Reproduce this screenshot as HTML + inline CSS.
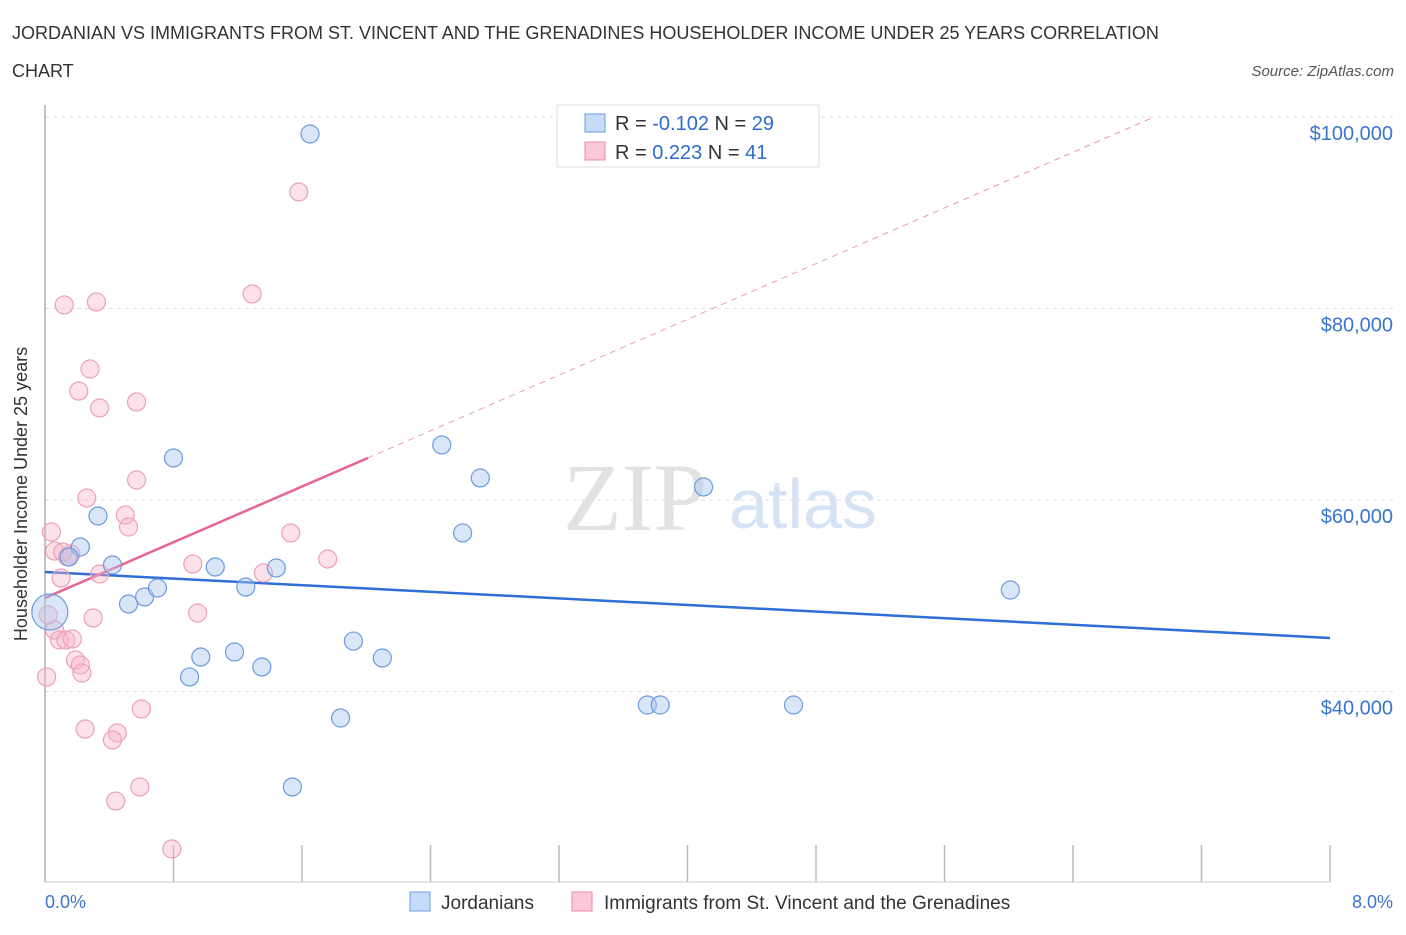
<!DOCTYPE html>
<html><head><meta charset="utf-8"><style>
body{margin:0;background:#fff;font-family:"Liberation Sans",sans-serif;}
svg text{font-family:"Liberation Sans",sans-serif;}
</style></head><body>
<svg id="chart" width="1406" height="930" xmlns="http://www.w3.org/2000/svg">
<text x="12" y="39" font-size="18" fill="#333">JORDANIAN VS IMMIGRANTS FROM ST. VINCENT AND THE GRENADINES HOUSEHOLDER INCOME UNDER 25 YEARS CORRELATION</text>
<text x="12" y="77" font-size="18" fill="#333">CHART</text>
<text x="1394" y="76" font-size="15" font-style="italic" fill="#555" text-anchor="end">Source: ZipAtlas.com</text>
<text x="635" y="530" font-size="96" font-family="Liberation Serif" fill="#e2e2e2" text-anchor="middle" style="font-family:'Liberation Serif',serif">ZIP</text>
<text x="803" y="528" font-size="70" fill="#d6e3f5" text-anchor="middle">atlas</text>
<g id="grid"></g>
<line x1="45" y1="105" x2="45" y2="882" stroke="#999" stroke-width="1.2"/>
<line x1="45" y1="882" x2="1330" y2="882" stroke="#ccc" stroke-width="1"/>
<g id="xticks"></g>
<text x="27" y="494" font-size="18" fill="#333" text-anchor="middle" transform="rotate(-90 27 494)">Householder Income Under 25 years</text>
<text x="45" y="908" font-size="18" fill="#3a74d0">0.0%</text>
<text x="1393" y="908" font-size="18" fill="#3a74d0" text-anchor="end">8.0%</text>
<g id="lines"></g>
<g id="points"></g>
<g>
<rect x="557" y="105" width="262" height="62" fill="#fff" stroke="#ddd"/>
<rect x="585" y="114" width="20" height="18" fill="#c6dbf7" stroke="#6c9ae0"/>
<rect x="585" y="142" width="20" height="18" fill="#fac8d8" stroke="#e88aa8"/>
<text x="615" y="130" font-size="20" fill="#333">R = <tspan fill="#2f6ad0">-0.102</tspan>   N = <tspan fill="#2f6ad0">29</tspan></text>
<text x="615" y="159" font-size="20" fill="#333">R =  <tspan fill="#2f6ad0"> 0.223</tspan>   N = <tspan fill="#2f6ad0">41</tspan></text>
</g>
<g>
<rect x="410" y="892" width="20" height="19" fill="#c6dbf7" stroke="#6c9ae0"/>
<text x="441" y="909" font-size="19" fill="#333">Jordanians</text>
<rect x="572" y="892" width="20" height="19" fill="#fac8d8" stroke="#e88aa8"/>
<text x="604" y="909" font-size="19" fill="#333">Immigrants from St. Vincent and the Grenadines</text>
</g>
</svg>
<script>
const yTicks=[100000,80000,60000,40000];
const yTickLabels=["$100,000","$80,000","$60,000","$40,000"];
const xTicks=[0,0.8,1.6,2.4,3.2,4.0,4.8,5.6,6.4,7.2,8.0];
const blueX=[1.65,0.80,0.33,0.22,0.15,0.42,0.52,0.62,0.70,1.06,1.25,1.44,0.97,0.90,1.18,1.35,1.92,2.10,1.84,1.54,2.47,2.71,2.60,4.10,3.75,3.83,4.66,6.01,0.03];
const blueY=[98225,64390,58330,55090,54050,53210,49140,49870,50810,53000,50910,52900,43600,41520,44130,42560,45270,43500,37230,30030,65750,62300,56560,61360,38590,38590,38590,50600,48300];
const pinkX=[1.58,0.12,0.32,1.29,0.28,0.21,0.34,0.57,0.57,0.26,0.04,0.50,0.52,0.06,0.16,0.14,0.10,0.34,0.92,1.53,1.76,1.36,0.95,0.30,0.02,0.06,0.09,0.13,0.17,0.19,0.22,0.23,0.01,0.60,0.25,0.45,0.42,0.59,0.44,0.79,0.11];
const pinkY=[92170,80370,80680,81520,73680,71380,69610,70240,62090,60210,56660,58430,57180,54670,54360,54050,51850,52270,53320,56560,53840,52380,48200,47680,47990,46420,45380,45380,45480,43290,42770,41930,41520,38180,36080,35670,34940,30030,28560,23550,54570];
const blueTrend=[52480,-861];   // intercept, slope per %
const pinkTrend=[49770,7274];
const pinkSolidEnd=2.01;
const NS="http://www.w3.org/2000/svg";
const X=v=>45+v/8*1285;
const Y=v=>117+(100000-v)/20000*191.5;
function mk(tag,attrs,parent){const e=document.createElementNS(NS,tag);for(const k in attrs)e.setAttribute(k,attrs[k]);parent.appendChild(e);return e;}
const grid=document.getElementById('grid');
yTicks.forEach((t,i)=>{
 const l=mk('line',{x1:45,x2:1393,y1:Y(t),y2:Y(t),stroke:'#ddd','stroke-dasharray':'4,4'},grid);
 
 
 const tx=mk('text',{x:1393,y:Y(t)+23,'font-size':20,fill:'#3a74d0','text-anchor':'end'},grid);
 tx.textContent=yTickLabels[i];
 
 
});
const xt=document.getElementById('xticks');
xTicks.forEach(t=>{
 const l=mk('line',{x1:X(t),x2:X(t),y1:845,y2:882,stroke:'#bbb','stroke-width':1.5},xt);
 
 
});
const lg=document.getElementById('lines');
let b=mk('line',{x1:X(0),y1:Y(blueTrend[0]),x2:X(8),y2:Y(blueTrend[0]+8*blueTrend[1]),stroke:'#2e6fd6','stroke-width':2.5},lg);


const xEnd=(100000-pinkTrend[0])/pinkTrend[1];
let pd=mk('line',{x1:X(pinkSolidEnd),y1:Y(pinkTrend[0]+pinkSolidEnd*pinkTrend[1]),x2:X(xEnd),y2:Y(100000),stroke:'#e89ab4','stroke-width':1,'stroke-dasharray':'6,5'},lg);


let ps=mk('line',{x1:X(0),y1:Y(pinkTrend[0]),x2:X(pinkSolidEnd),y2:Y(pinkTrend[0]+pinkSolidEnd*pinkTrend[1]),stroke:'#e8658f','stroke-width':2.5},lg);


const pg=document.getElementById('points');
pinkX.forEach((x,i)=>{
 const c=mk('circle',{cx:X(x),cy:Y(pinkY[i]),r:9,fill:'rgba(248,180,200,0.4)',stroke:'#eca0b8','stroke-width':1.2},pg);
 
 
});
blueX.forEach((x,i)=>{
 const r=i===blueX.length-1?18:9;
 const c=mk('circle',{cx:X(x),cy:Y(blueY[i]),r:r,fill:'rgba(170,200,240,0.45)',stroke:'#6c9ae0','stroke-width':1.2},pg);
 
 
});
</script>
</body></html>
